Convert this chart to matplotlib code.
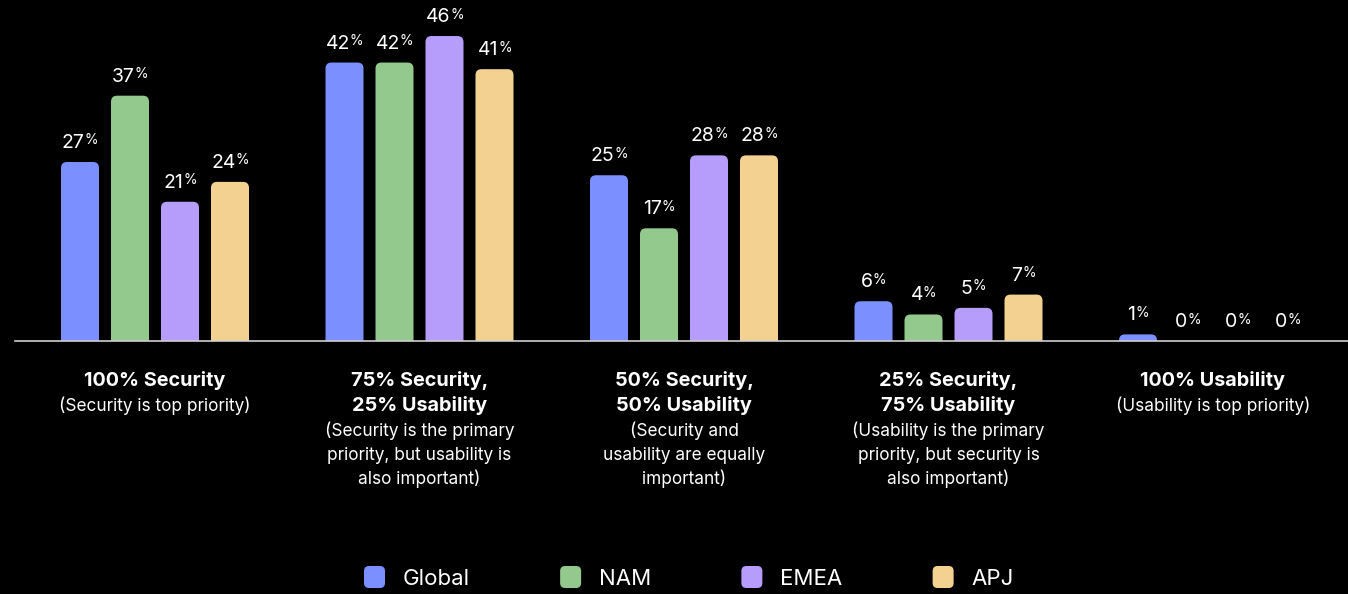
import matplotlib.pyplot as plt
from matplotlib.patches import FancyBboxPatch

plt.rcParams['font.family'] = ['Inter', 'DejaVu Sans']

# data
regions = ['Global', 'NAM', 'EMEA', 'APJ']
titles = [
    ['100% Security'],
    ['75% Security,', '25% Usability'],
    ['50% Security,', '50% Usability'],
    ['25% Security,', '75% Usability'],
    ['100% Usability'],
]
notes = [
    ['(Security is top priority)'],
    ['(Security is the primary', 'priority, but usability is', 'also important)'],
    ['(Security and', 'usability are equally', 'important)'],
    ['(Usability is the primary', 'priority, but security is', 'also important)'],
    ['(Usability is top priority)'],
]
global_vals = [27, 42, 25, 6, 1]
nam_vals = [37, 42, 17, 4, 0]
emea_vals = [21, 46, 28, 5, 0]
apj_vals = [24, 41, 28, 7, 0]
series = [global_vals, nam_vals, emea_vals, apj_vals]
colors = ['#7b8ffe', '#93c98d', '#b69cfb', '#f3d291']

W, H = 1348, 594
fig = plt.figure(figsize=(W / 100, H / 100), dpi=100, facecolor='black')

# bar area: baseline sits 341 px from the top, starts at x=15
base_y = 341
left = 15
first_center = 155
group_gap = 264.5      # px between group centres
bar_step = 50          # px between bars in a group
bar_w = 38
px_per_pct = 6.63
px_x = 1 / group_gap
px_y = 1 / px_per_pct

ax = fig.add_axes([left / W, (H - base_y) / H, (W - left) / W, base_y / H])
ax.set_facecolor('black')
ax.set_xlim((left - first_center) * px_x, (W - first_center) * px_x)
ax.set_ylim(0, base_y * px_y)
ax.axis('off')
ax.axhline(0, color='#cfcfcf', lw=1.2, clip_on=False)

# overlay in pixel units for labels and legend
ov = fig.add_axes([0, 0, 1, 1])
ov.set_xlim(0, W)
ov.set_ylim(H, 0)
ov.axis('off')
ov.patch.set_alpha(0)

renderer = fig.canvas.get_renderer()


def text_width(s, size, weight='normal'):
    t = fig.text(0, 0, s, fontsize=size, fontweight=weight)
    w = t.get_window_extent(renderer).width
    t.remove()
    return w


num_size, pct_size = 14, 10
pct_w = text_width('%', pct_size)
r = 6  # corner radius, px

for j, (vals, color) in enumerate(zip(series, colors)):
    for i, v in enumerate(vals):
        x = i + (j - 1.5) * bar_step * px_x
        if v > 0:
            bar = FancyBboxPatch(
                (x - bar_w * px_x / 2, -r * px_y), bar_w * px_x, v + r * px_y,
                boxstyle=f'round,pad=0,rounding_size={r * px_x}',
                mutation_aspect=px_y / px_x, fc=color, ec='none')
            ax.add_patch(bar)
        num = str(v)
        nw = text_width(num, num_size)
        total = nw + pct_w
        ax.annotate(num, (x, v), xytext=(-total / 2, 14), textcoords='offset pixels',
                    ha='left', va='baseline', color='white', fontsize=num_size)
        ax.annotate('%', (x, v), xytext=(-total / 2 + nw, 17.5), textcoords='offset pixels',
                    ha='left', va='baseline', color='white', fontsize=pct_size)

# category labels under the baseline
line_pitch = 24.5
for i, (tl, nl) in enumerate(zip(titles, notes)):
    cx = first_center + i * group_gap
    y = 386.5
    for line in tl:
        ov.text(cx, y, line, ha='center', va='baseline', color='white',
                fontsize=14.3, fontweight='bold')
        y += line_pitch
    for line in nl:
        ov.text(cx, y, line, ha='center', va='baseline', color='white', fontsize=12.4)
        y += line_pitch

# legend
lx = 364
for name, color in zip(regions, colors):
    ov.add_patch(FancyBboxPatch((lx, 566), 21, 22, boxstyle='round,pad=0,rounding_size=5',
                                fc=color, ec='none'))
    ov.text(lx + 39, 585, name, ha='left', va='baseline', color='white', fontsize=16)
    lx += 39 + text_width(name, 16) + 90

fig.savefig('out.png', dpi=100, facecolor='black')
